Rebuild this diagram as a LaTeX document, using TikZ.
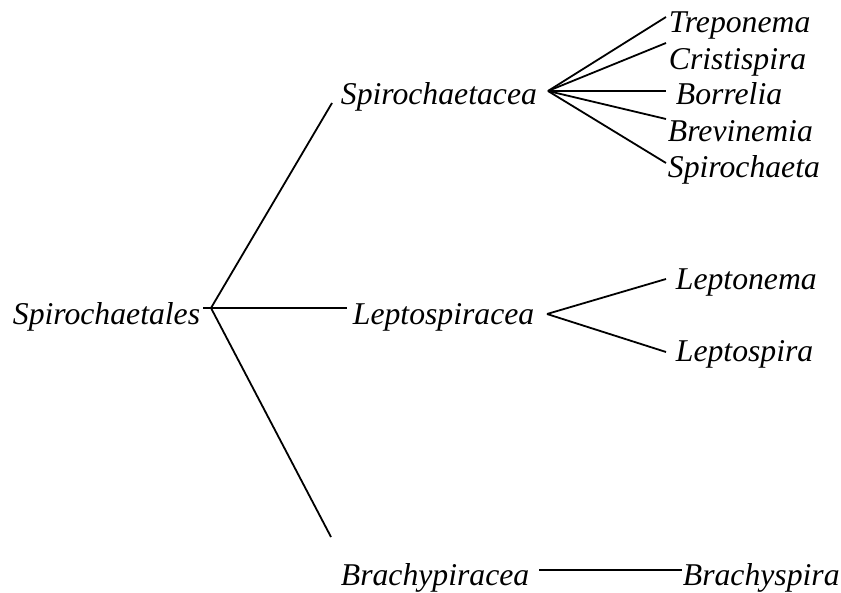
\documentclass[tikz,border=0pt]{standalone}
\usepackage{fontspec}
\setmainfont{Liberation Serif}
\newcommand\taxon{\fontsize{31.7}{38}\selectfont\itshape}
\begin{document}
\begin{tikzpicture}[x=1pt,y=-1pt,line width=1.8pt,every node/.style={font=\taxon, inner sep=0pt, anchor=base west}]
\useasboundingbox (0,0) rectangle (841,593);
% order and families
\node (order) at (12,325) {Spirochaetales};
\node (spirochaetacea) at (340,105) {Spirochaetacea};
\node (leptospiracea) at (352,325) {Leptospiracea};
\node (brachypiracea) at (340,585) {Brachypiracea};
\coordinate (orderfork) at (211,308);
\coordinate (orderstub) at (203,308);
\coordinate (spirotip) at (332,103);
\coordinate (leptotip) at (347,308);
\coordinate (brachytip) at (331,537);
\draw (orderfork) -- (spirotip);
\draw (orderstub) -- (leptotip);
\draw (orderfork) -- (brachytip);
% genera of Spirochaetacea
\coordinate (spirofork) at (548,91);
\foreach \n/\t/\x/\b/\e in {treponema/Treponema/668/33/17, cristispira/Cristispira/668/70/43, borrelia/Borrelia/675/105/91, brevinemia/Brevinemia/667/142/119, spirochaeta/Spirochaeta/667/178/163} {
\node (\n) at (\x,\b) {\t};
\coordinate (\n-tip) at (666,\e);
\draw (spirofork) -- (\n-tip);
}
% genera of Leptospiracea
\coordinate (leptofork) at (547,314);
\foreach \n/\t/\b/\e in {leptonema/Leptonema/290/279, leptospira/Leptospira/362/352} {
\node (\n) at (675,\b) {\t};
\coordinate (\n-tip) at (666,\e);
\draw (leptofork) -- (\n-tip);
}
% genus of Brachypiracea
\node (brachyspira) at (682,585) {Brachyspira};
\draw ([xshift=9pt,yshift=15pt]brachypiracea.base east) -- ([yshift=15pt]brachyspira.base west);
\end{tikzpicture}
\end{document}
